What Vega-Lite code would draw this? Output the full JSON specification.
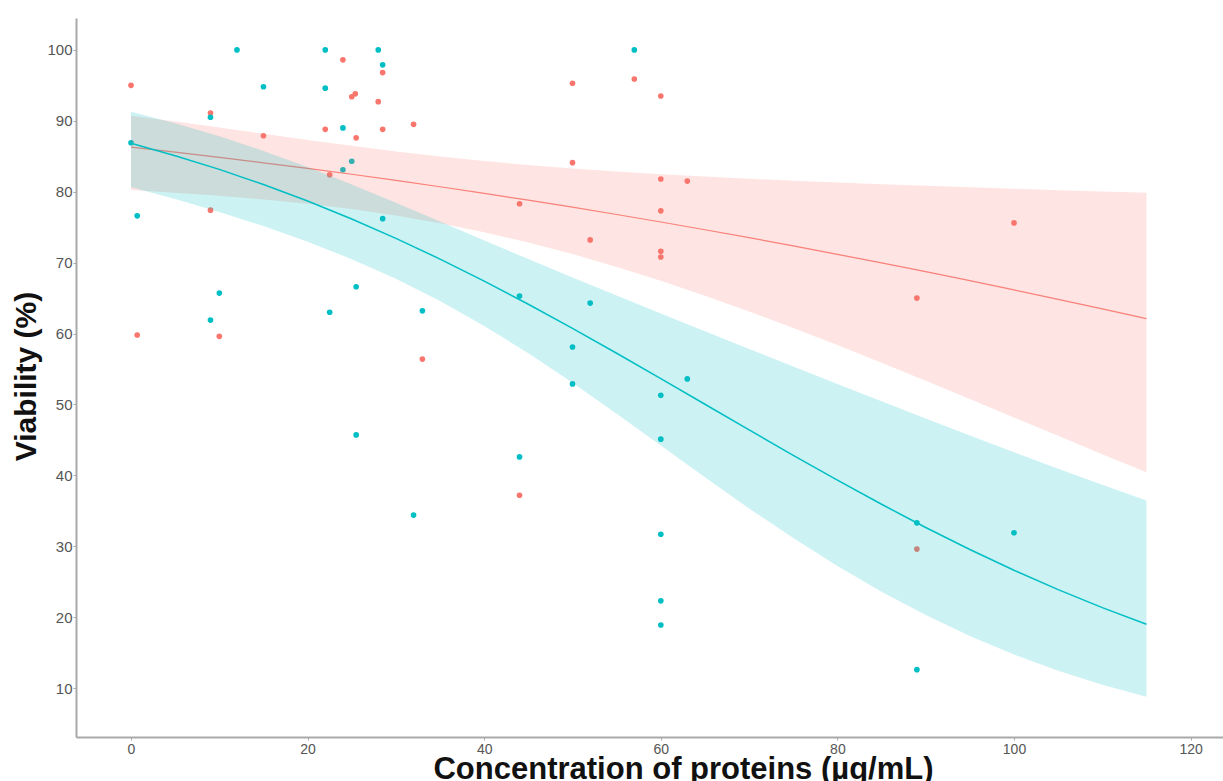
{
  "$schema": "https://vega.github.io/schema/vega-lite/v6.json",
  "width": 1147,
  "height": 719,
  "autosize": {"type": "none"},
  "padding": {"left": 76, "top": 18, "right": 0, "bottom": 44},
  "background": "white",
  "config": {"view": {"stroke": null}, "font": "Liberation Sans"},
  "datasets": {
    "pts": [
      {"conc": 0, "viability": 95.0, "group": "A"},
      {"conc": 0.7, "viability": 59.8, "group": "A"},
      {"conc": 9, "viability": 91.1, "group": "A"},
      {"conc": 9, "viability": 77.4, "group": "A"},
      {"conc": 10, "viability": 59.6, "group": "A"},
      {"conc": 15, "viability": 87.9, "group": "A"},
      {"conc": 22, "viability": 88.8, "group": "A"},
      {"conc": 22.5, "viability": 82.4, "group": "A"},
      {"conc": 24, "viability": 98.6, "group": "A"},
      {"conc": 25, "viability": 93.4, "group": "A"},
      {"conc": 25.4, "viability": 93.8, "group": "A"},
      {"conc": 25.5, "viability": 87.6, "group": "A"},
      {"conc": 28, "viability": 92.7, "group": "A"},
      {"conc": 28.5, "viability": 96.8, "group": "A"},
      {"conc": 28.5, "viability": 88.8, "group": "A"},
      {"conc": 32, "viability": 89.5, "group": "A"},
      {"conc": 33, "viability": 56.4, "group": "A"},
      {"conc": 44, "viability": 78.3, "group": "A"},
      {"conc": 44, "viability": 37.2, "group": "A"},
      {"conc": 50, "viability": 95.3, "group": "A"},
      {"conc": 50, "viability": 84.1, "group": "A"},
      {"conc": 52, "viability": 73.2, "group": "A"},
      {"conc": 57, "viability": 95.9, "group": "A"},
      {"conc": 60, "viability": 93.5, "group": "A"},
      {"conc": 60, "viability": 81.8, "group": "A"},
      {"conc": 60, "viability": 77.3, "group": "A"},
      {"conc": 60, "viability": 71.6, "group": "A"},
      {"conc": 60, "viability": 70.8, "group": "A"},
      {"conc": 63, "viability": 81.5, "group": "A"},
      {"conc": 89, "viability": 65.0, "group": "A"},
      {"conc": 89, "viability": 29.6, "group": "A"},
      {"conc": 100, "viability": 75.6, "group": "A"},
      {"conc": 0, "viability": 86.9, "group": "B"},
      {"conc": 0.7, "viability": 76.6, "group": "B"},
      {"conc": 9, "viability": 90.5, "group": "B"},
      {"conc": 9, "viability": 61.9, "group": "B"},
      {"conc": 10, "viability": 65.7, "group": "B"},
      {"conc": 12, "viability": 100, "group": "B"},
      {"conc": 15, "viability": 94.8, "group": "B"},
      {"conc": 22, "viability": 100, "group": "B"},
      {"conc": 22, "viability": 94.6, "group": "B"},
      {"conc": 22.5, "viability": 63.0, "group": "B"},
      {"conc": 24, "viability": 89.0, "group": "B"},
      {"conc": 24, "viability": 83.1, "group": "B"},
      {"conc": 25, "viability": 84.3, "group": "B"},
      {"conc": 25.5, "viability": 66.6, "group": "B"},
      {"conc": 25.5, "viability": 45.7, "group": "B"},
      {"conc": 28, "viability": 100, "group": "B"},
      {"conc": 28.5, "viability": 97.9, "group": "B"},
      {"conc": 28.5, "viability": 76.2, "group": "B"},
      {"conc": 32, "viability": 34.4, "group": "B"},
      {"conc": 33, "viability": 63.2, "group": "B"},
      {"conc": 44, "viability": 65.3, "group": "B"},
      {"conc": 44, "viability": 42.6, "group": "B"},
      {"conc": 50, "viability": 58.1, "group": "B"},
      {"conc": 50, "viability": 52.9, "group": "B"},
      {"conc": 52, "viability": 64.3, "group": "B"},
      {"conc": 57, "viability": 100, "group": "B"},
      {"conc": 60, "viability": 51.3, "group": "B"},
      {"conc": 60, "viability": 45.1, "group": "B"},
      {"conc": 60, "viability": 31.7, "group": "B"},
      {"conc": 60, "viability": 22.3, "group": "B"},
      {"conc": 60, "viability": 18.9, "group": "B"},
      {"conc": 63, "viability": 53.6, "group": "B"},
      {"conc": 89, "viability": 33.3, "group": "B"},
      {"conc": 89, "viability": 12.6, "group": "B"},
      {"conc": 100, "viability": 31.9, "group": "B"}
    ],
    "fitA": [
      {"conc": 0, "fit": 86.30, "lower": 80.24, "upper": 90.71},
      {"conc": 5, "fit": 85.59, "lower": 79.87, "upper": 89.90},
      {"conc": 10, "fit": 84.85, "lower": 79.43, "upper": 89.04},
      {"conc": 15, "fit": 84.08, "lower": 78.91, "upper": 88.18},
      {"conc": 20, "fit": 83.29, "lower": 78.30, "upper": 87.31},
      {"conc": 25, "fit": 82.46, "lower": 77.55, "upper": 86.47},
      {"conc": 30, "fit": 81.59, "lower": 76.65, "upper": 85.69},
      {"conc": 35, "fit": 80.70, "lower": 75.56, "upper": 84.97},
      {"conc": 40, "fit": 79.77, "lower": 74.30, "upper": 84.32},
      {"conc": 45, "fit": 78.81, "lower": 72.84, "upper": 83.77},
      {"conc": 50, "fit": 77.82, "lower": 71.20, "upper": 83.27},
      {"conc": 55, "fit": 76.79, "lower": 69.39, "upper": 82.84},
      {"conc": 60, "fit": 75.73, "lower": 67.43, "upper": 82.47},
      {"conc": 65, "fit": 74.64, "lower": 65.33, "upper": 82.14},
      {"conc": 70, "fit": 73.52, "lower": 63.11, "upper": 81.83},
      {"conc": 75, "fit": 72.36, "lower": 60.78, "upper": 81.56},
      {"conc": 80, "fit": 71.17, "lower": 58.37, "upper": 81.31},
      {"conc": 85, "fit": 69.96, "lower": 55.89, "upper": 81.07},
      {"conc": 90, "fit": 68.72, "lower": 53.34, "upper": 80.85},
      {"conc": 95, "fit": 67.45, "lower": 50.77, "upper": 80.64},
      {"conc": 100, "fit": 66.15, "lower": 48.17, "upper": 80.43},
      {"conc": 105, "fit": 64.83, "lower": 45.57, "upper": 80.22},
      {"conc": 110, "fit": 63.48, "lower": 42.98, "upper": 80.04},
      {"conc": 115, "fit": 62.11, "lower": 40.42, "upper": 79.85}
    ],
    "fitB": [
      {"conc": 0, "fit": 86.83, "lower": 80.62, "upper": 91.27},
      {"conc": 5, "fit": 85.08, "lower": 78.97, "upper": 89.65},
      {"conc": 10, "fit": 83.15, "lower": 77.15, "upper": 87.81},
      {"conc": 15, "fit": 81.01, "lower": 75.16, "upper": 85.76},
      {"conc": 20, "fit": 78.69, "lower": 72.95, "upper": 83.47},
      {"conc": 25, "fit": 76.15, "lower": 70.49, "upper": 81.02},
      {"conc": 30, "fit": 73.42, "lower": 67.72, "upper": 78.43},
      {"conc": 35, "fit": 70.50, "lower": 64.59, "upper": 75.79},
      {"conc": 40, "fit": 67.39, "lower": 61.08, "upper": 73.12},
      {"conc": 45, "fit": 64.13, "lower": 57.22, "upper": 70.50},
      {"conc": 50, "fit": 60.73, "lower": 53.06, "upper": 67.91},
      {"conc": 55, "fit": 57.22, "lower": 48.68, "upper": 65.36},
      {"conc": 60, "fit": 53.64, "lower": 44.20, "upper": 62.83},
      {"conc": 65, "fit": 50.03, "lower": 39.72, "upper": 60.33},
      {"conc": 70, "fit": 46.41, "lower": 35.34, "upper": 57.83},
      {"conc": 75, "fit": 42.83, "lower": 31.15, "upper": 55.35},
      {"conc": 80, "fit": 39.32, "lower": 27.21, "upper": 52.89},
      {"conc": 85, "fit": 35.92, "lower": 23.58, "upper": 50.44},
      {"conc": 90, "fit": 32.65, "lower": 20.29, "upper": 48.01},
      {"conc": 95, "fit": 29.55, "lower": 17.33, "upper": 45.61},
      {"conc": 100, "fit": 26.62, "lower": 14.72, "upper": 43.25},
      {"conc": 105, "fit": 23.89, "lower": 12.44, "upper": 40.93},
      {"conc": 110, "fit": 21.35, "lower": 10.47, "upper": 38.66},
      {"conc": 115, "fit": 19.01, "lower": 8.77, "upper": 36.45}
    ]
  },
  "encoding": {
    "x": {
      "field": "conc",
      "type": "quantitative",
      "scale": {"domain": [-6.23, 123.67], "nice": false, "zero": false},
      "axis": {
        "title": "Concentration of proteins (µg/mL)",
        "values": [0, 20, 40, 60, 80, 100, 120],
        "grid": false,
        "domainColor": "#a9a9a9",
        "domainWidth": 2,
        "tickColor": "#a9a9a9",
        "tickSize": 3,
        "tickWidth": 1,
        "labelColor": "#555555",
        "labelFontSize": 14,
        "labelPadding": 2,
        "labelFont": "Liberation Sans",
        "titleFont": "Liberation Sans",
        "titleFontSize": 31,
        "titleFontWeight": "bold",
        "titleColor": "#111111",
        "titleX": 607,
        "titleY": 41,
        "titleBaseline": "alphabetic",
        "titleAnchor": null,
        "titleAlign": "center"
      }
    }
  },
  "layer": [
    {
      "data": {"name": "pts"},
      "mark": {"type": "point", "filled": true, "size": 32, "opacity": 1},
      "encoding": {
        "y": {
          "field": "viability",
          "type": "quantitative",
          "scale": {"domain": [3.1, 104.5], "nice": false, "zero": false},
          "axis": {
            "title": "Viability (%)",
            "values": [10, 20, 30, 40, 50, 60, 70, 80, 90, 100],
            "grid": false,
            "domainColor": "#a9a9a9",
            "domainWidth": 2,
            "tickColor": "#a9a9a9",
            "tickSize": 3,
            "tickWidth": 1,
            "labelColor": "#555555",
            "labelFontSize": 15,
            "labelPadding": 1,
            "labelFont": "Liberation Sans",
            "titleFont": "Liberation Sans",
            "titleFontSize": 30,
            "titleFontWeight": "bold",
            "titleColor": "#111111",
            "titleX": -41,
            "titleY": 358,
            "titleAngle": 270,
            "titleBaseline": "alphabetic",
            "titleAlign": "center",
            "titleAnchor": null
          }
        },
        "color": {
          "field": "group",
          "type": "nominal",
          "scale": {"domain": ["A", "B"], "range": ["#F8766D", "#00BFC4"]},
          "legend": null
        }
      }
    },
    {
      "data": {"name": "fitA"},
      "mark": {"type": "area", "color": "#F8766D", "opacity": 0.2},
      "encoding": {
        "y": {"field": "lower", "type": "quantitative"},
        "y2": {"field": "upper"}
      }
    },
    {
      "data": {"name": "fitA"},
      "mark": {"type": "line", "color": "#F8766D", "strokeWidth": 1.2, "opacity": 0.9},
      "encoding": {
        "y": {"field": "fit", "type": "quantitative"}
      }
    },
    {
      "data": {"name": "fitB"},
      "mark": {"type": "area", "color": "#00BFC4", "opacity": 0.2},
      "encoding": {
        "y": {"field": "lower", "type": "quantitative"},
        "y2": {"field": "upper"}
      }
    },
    {
      "data": {"name": "fitB"},
      "mark": {"type": "line", "color": "#00BFC4", "strokeWidth": 1.5},
      "encoding": {
        "y": {"field": "fit", "type": "quantitative"}
      }
    }
  ]
}
